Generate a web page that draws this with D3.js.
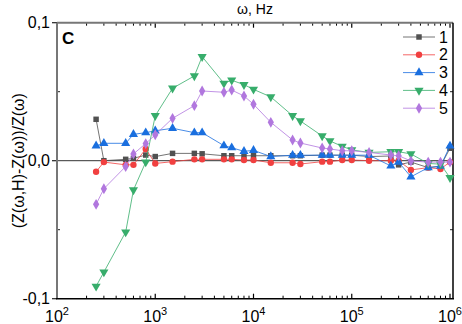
<!DOCTYPE html>
<html>
<head>
<meta charset="utf-8">
<script src="https://cdn.jsdelivr.net/npm/d3@7"></script>
<style>
  body { margin: 0; background: #fff; }
  svg { display: block; font-family: "Liberation Sans", Arial, sans-serif; }
</style>
</head>
<body>
<div id="chart"></div>
<script>
// frequencies, Hz
var freqs = [250, 300, 500, 600, 800, 1000, 1500, 2500, 3000, 5000, 6000, 8000, 10000, 15000,
  25000, 30000, 50000, 60000, 80000, 100000, 150000, 250000, 300000, 400000, 600000, 800000, 1000000];

var series1 = [0.030, 0.000, 0.001, 0.0017, 0.0041, 0.003, 0.0053, 0.0053, 0.005, 0.0036, 0.0036, 0.0036, 0.0036, 0.0036,
  0.0036, 0.0036, 0.004, 0.004, 0.004, 0.004, 0.003, 0.0034, -0.003, -0.001, -0.005, -0.004, 0.009];
var series2 = [-0.008, -0.001, -0.003, -0.003, 0.0085, -0.002, -0.0007, 0.001, 0.001, 0.001, 0.001, 0.0005, 0.0005, -0.0015,
  -0.0015, -0.0024, -0.0007, -0.0007, 0.0005, 0.0005, 0.0, 0.0, 0.0, -0.0067, -0.005, -0.006, -0.001];
var series3 = [0.0108, 0.0126, 0.0126, 0.0191, 0.0203, 0.0217, 0.0235, 0.0203, 0.0203, 0.0109, 0.0094, 0.0068, 0.0075, 0.003,
  0.004, 0.004, 0.004, 0.004, 0.004, 0.004, 0.004, -0.0038, -0.001, -0.0117, -0.005, -0.004, 0.0107];
var series4 = [-0.091, -0.0807, -0.0517, -0.0212, -0.001, 0.0326, 0.0525, 0.0614, 0.0754, 0.0561, 0.0583, 0.0551, 0.0517, 0.0462,
  0.0326, 0.0288, 0.0179, 0.0143, 0.0104, 0.0078, 0.006, 0.0065, 0.0065, 0.0049, -0.002, -0.0025, -0.0123];
var series5 = [-0.0316, -0.0203, -0.0042, 0.0049, 0.0124, 0.0188, 0.0307, 0.0399, 0.0505, 0.0496, 0.0512, 0.0469, 0.0409, 0.0278,
  0.015, 0.0128, 0.0092, 0.0085, 0.0072, 0.0072, 0.006, 0.0041, 0.0036, -0.0002, -0.001, -0.001, -0.001];

var seriesNames = ["1", "2", "3", "4", "5"];
var xMajorTicks = [1e2, 1e3, 1e4, 1e5, 1e6];
var xTickExponents = ["2", "3", "4", "5", "6"];
var yMajorTicks = [-0.1, 0, 0.1];
var yTickLabels = ["-0,1", "0,0", "0,1"];
var yMinorTicks = [-0.05, 0.05];

var colors = ["#515151", "#f14040", "#1a6fdf", "#37ad6b", "#b177de"];
var symbols = [d3.symbolSquare, d3.symbolCircle, d3.symbolTriangle, d3.symbolTriangle, d3.symbolDiamond];
var symbolSizes = [30, 32, 36, 36, 34];

var width = 462, height = 324;
var margin = {top: 22.7, right: 9, bottom: 25.3, left: 57};

var svg = d3.select("#chart").append("svg")
  .attr("width", width)
  .attr("height", height);

var x = d3.scaleLog()
  .domain([100, Math.pow(10, 2 + (width - margin.right - margin.left) / 98.25)])
  .range([margin.left, width - margin.right]);

var y = d3.scaleLinear()
  .domain([-0.1, 0.1])
  .range([height - margin.bottom, margin.top]);

var x0 = margin.left, x1 = width - margin.right;
var y0 = height - margin.bottom, y1 = margin.top;

// minor ticks of log axis
var xMinorTicks = [];
[100, 1000, 10000, 100000].forEach(function (d) {
  for (var k = 2; k <= 9; k++) xMinorTicks.push(d * k);
});

var ticks = svg.append("g").attr("class", "ticks");

// top & bottom ticks (inward)
xMinorTicks.forEach(function (t) {
  ticks.append("line").attr("x1", x(t)).attr("x2", x(t)).attr("y1", y0).attr("y2", y0 - 3)
    .attr("stroke", "#000").attr("stroke-width", 1);
  ticks.append("line").attr("x1", x(t)).attr("x2", x(t)).attr("y1", y1).attr("y2", y1 + 3)
    .attr("stroke", "#000").attr("stroke-width", 1);
});
xMajorTicks.forEach(function (t) {
  ticks.append("line").attr("x1", x(t)).attr("x2", x(t)).attr("y1", y0).attr("y2", y0 - 5)
    .attr("stroke", "#000").attr("stroke-width", 1.2);
  ticks.append("line").attr("x1", x(t)).attr("x2", x(t)).attr("y1", y1).attr("y2", y1 + 5)
    .attr("stroke", "#000").attr("stroke-width", 1.2);
});

// y ticks
yMajorTicks.forEach(function (t) {
  ticks.append("line").attr("x1", x0 - 5).attr("x2", x0).attr("y1", y(t)).attr("y2", y(t))
    .attr("stroke", "#222").attr("stroke-width", 1.2);
});
yMinorTicks.forEach(function (t) {
  ticks.append("line").attr("x1", x0).attr("x2", x0 + 3).attr("y1", y(t)).attr("y2", y(t))
    .attr("stroke", "#222").attr("stroke-width", 1);
  ticks.append("line").attr("x1", x1 - 3).attr("x2", x1).attr("y1", y(t)).attr("y2", y(t))
    .attr("stroke", "#222").attr("stroke-width", 1);
});

// zero line
svg.append("line")
  .attr("x1", x0).attr("x2", x1).attr("y1", y(0)).attr("y2", y(0))
  .attr("stroke", "#333").attr("stroke-width", 1);

// frame: top & left grey, bottom & right black
svg.append("line").attr("x1", x0).attr("x2", x1).attr("y1", y1).attr("y2", y1)
  .attr("stroke", "#777").attr("stroke-width", 2);
svg.append("line").attr("x1", x0).attr("x2", x0).attr("y1", y1).attr("y2", y0)
  .attr("stroke", "#777").attr("stroke-width", 2);
svg.append("line").attr("x1", x0 - 1).attr("x2", x1 + 1).attr("y1", y0).attr("y2", y0)
  .attr("stroke", "#000").attr("stroke-width", 1.5);
svg.append("line").attr("x1", x1).attr("x2", x1).attr("y1", y1).attr("y2", y0)
  .attr("stroke", "#000").attr("stroke-width", 1.5);

// x tick labels
xMajorTicks.forEach(function (t, i) {
  var lbl = svg.append("text")
    .attr("x", x(t))
    .attr("y", 322)
    .attr("text-anchor", "middle")
    .attr("font-size", 16)
    .attr("fill", "#000");
  lbl.append("tspan").text("10");
  lbl.append("tspan").attr("dy", -7).attr("font-size", 11).text(xTickExponents[i]);
});

// y tick labels
yMajorTicks.forEach(function (t, i) {
  svg.append("text")
    .attr("x", 50)
    .attr("y", y(t) + 5.5)
    .attr("text-anchor", "end")
    .attr("font-size", 16)
    .attr("fill", "#000")
    .text(yTickLabels[i]);
});

// titles
svg.append("text")
  .attr("x", 255)
  .attr("y", 14)
  .attr("text-anchor", "middle")
  .attr("font-size", 14)
  .text("ω, Hz");

svg.append("text")
  .attr("transform", "translate(24," + y(0) + ") rotate(-90)")
  .attr("text-anchor", "middle")
  .attr("font-size", 16)
  .text("(Z(ω,H)-Z(ω))/Z(ω)");

svg.append("text")
  .attr("x", 62)
  .attr("y", 44)
  .attr("font-size", 17)
  .attr("font-weight", "bold")
  .text("C");

// series
var allSeries = [series1, series2, series3, series4, series5];

var line = d3.line()
  .x(function (d) { return x(d.f); })
  .y(function (d) { return y(d.v); });

allSeries.forEach(function (vals, i) {
  var pts = freqs.map(function (f, j) { return {f: f, v: vals[j]}; });
  var g = svg.append("g").attr("class", "series" + (i + 1));
  g.append("path")
    .datum(pts)
    .attr("d", line)
    .attr("fill", "none")
    .attr("stroke", colors[i])
    .attr("stroke-width", 0.8);
  g.selectAll("path.pt")
    .data(pts)
    .enter().append("path")
    .attr("class", "pt")
    .attr("d", d3.symbol().type(symbols[i]).size(symbolSizes[i]))
    .attr("transform", function (d) {
      return "translate(" + x(d.f) + "," + y(d.v) + ")" + (i === 3 ? " rotate(180)" : "");
    })
    .attr("fill", colors[i]);
});

// legend
var legend = svg.selectAll(".legend")
  .data(seriesNames)
  .enter().append("g")
  .attr("class", "legend")
  .attr("transform", function (d, i) { return "translate(0," + (37 + i * 17.8) + ")"; });

legend.append("line")
  .attr("x1", 403).attr("x2", 435)
  .attr("stroke", function (d, i) { return colors[i]; })
  .attr("stroke-width", 0.8);

legend.append("path")
  .attr("d", function (d, i) { return d3.symbol().type(symbols[i]).size(symbolSizes[i])(); })
  .attr("transform", function (d, i) { return "translate(419,0)" + (i === 3 ? " rotate(180)" : ""); })
  .attr("fill", function (d, i) { return colors[i]; });

legend.append("text")
  .attr("x", 439)
  .attr("y", 5.5)
  .attr("font-size", 16)
  .text(function (d) { return d; });
</script>
</body>
</html>
